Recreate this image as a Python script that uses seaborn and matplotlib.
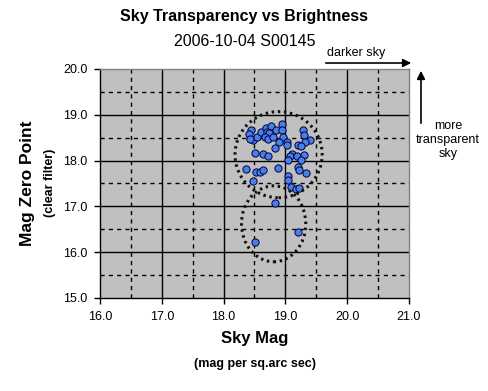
import numpy as np
import pandas as pd
import matplotlib
matplotlib.use("Agg")
import matplotlib.pyplot as plt
import seaborn as sns
from matplotlib.patches import Ellipse, FancyArrowPatch

# sky brightness (mag per sq.arc sec) and zero point readings
sky_mag = [18.44, 18.41, 18.48, 18.42, 18.54, 18.61, 18.69, 18.70, 18.77, 18.74,
           18.67, 18.72, 18.80, 18.85, 18.94, 18.94, 18.96, 18.89, 18.83, 19.02,
           19.03, 19.28, 19.30, 19.40, 19.32, 19.21, 19.26, 18.51, 18.64, 18.72,
           19.10, 19.07, 19.18, 19.30, 19.26, 19.04, 18.37, 18.52, 18.59, 18.64,
           18.88, 19.21, 19.22, 19.34, 18.47, 19.05, 19.04, 19.09, 19.17, 19.22,
           18.83, 19.20, 18.51]
zero_point = [18.67, 18.57, 18.45, 18.47, 18.52, 18.63, 18.71, 18.63, 18.76, 18.61,
              18.52, 18.47, 18.52, 18.67, 18.81, 18.67, 18.52, 18.41, 18.27, 18.41,
              18.34, 18.67, 18.56, 18.45, 18.41, 18.34, 18.32, 18.16, 18.14, 18.11,
              18.14, 18.09, 18.09, 18.12, 18.01, 18.01, 17.81, 17.76, 17.76, 17.79,
              17.83, 17.85, 17.79, 17.72, 17.55, 17.66, 17.58, 17.43, 17.38, 17.40,
              17.08, 16.45, 16.22]

# dotted rings drawn around the two groups (centre x, centre y, width, height)
ring_main = (18.89, 18.13, 1.41, 1.88)
ring_low = (18.81, 16.62, 1.04, 1.66)

df = pd.DataFrame({"sky": sky_mag, "zp": zero_point})

sns.set_style("white")
plt.rcParams['font.family'] = ['Liberation Sans', 'DejaVu Sans']
plt.rcParams['text.color'] = 'black'
plt.rcParams['xtick.color'] = 'black'
plt.rcParams['ytick.color'] = 'black'
plt.rcParams['axes.labelcolor'] = 'black'

fig = plt.figure(figsize=(4.89, 3.91), dpi=100)
ax = fig.add_axes([100 / 489, 1 - 298 / 391, 309 / 489, 229 / 391])
ax.set_facecolor("#c0c0c0")

# grid: solid at whole numbers, dashed at the halves
for v in np.arange(16.5, 21, 1.0):
    ax.axvline(v, color="black", lw=1, ls=(0, (3, 3)), zorder=1)
for v in np.arange(17, 21, 1.0):
    ax.axvline(v, color="black", lw=1, zorder=1)
for v in np.arange(15.5, 20, 1.0):
    ax.axhline(v, color="black", lw=1, ls=(0, (3, 3)), zorder=1)
for v in np.arange(16, 20, 1.0):
    ax.axhline(v, color="black", lw=1, zorder=1)

sns.scatterplot(data=df, x="sky", y="zp", ax=ax, s=27, color="#4a7fe6",
                edgecolor="#000040", linewidth=0.7, zorder=3)

for cx, cy, w, h in (ring_main, ring_low):
    ax.add_patch(Ellipse((cx, cy), w, h, fill=False, ec="#111111", lw=2.2,
                         ls=(0, (0.8, 1.2)), zorder=4))

ax.set_xlim(16, 21)
ax.set_ylim(15, 20)
ax.set_xticks(np.arange(16, 21.5, 1.0))
ax.set_yticks(np.arange(15, 20.5, 1.0))
ax.set_xticklabels([f"{v:.1f}" for v in np.arange(16, 21.5, 1.0)])
ax.set_yticklabels([f"{v:.1f}" for v in np.arange(15, 20.5, 1.0)])
ax.tick_params(axis="both", labelsize=9, length=4, width=1, direction="out",
               color="black", labelcolor="black", pad=5)
ax.tick_params(axis="x", bottom=True)
ax.tick_params(axis="y", left=True)
ax.set_xlabel("")
ax.set_ylabel("")
for side in ("left", "bottom"):
    ax.spines[side].set_color("black")
    ax.spines[side].set_linewidth(1)
for side in ("top", "right"):
    ax.spines[side].set_color("#808080")
    ax.spines[side].set_linewidth(1)

# titles and axis labels
fig.text(0.5, 1 - 17 / 391, "Sky Transparency vs Brightness", ha="center",
         va="center", fontsize=11.5, fontweight="bold")
fig.text(0.5, 1 - 41 / 391, "2006-10-04 S00145", ha="center", va="center",
         fontsize=11.5)
fig.text(255 / 489, 1 - 339 / 391, "Sky Mag", ha="center", va="center",
         fontsize=12, fontweight="bold")
fig.text(255 / 489, 1 - 364 / 391, "(mag per sq.arc sec)", ha="center",
         va="center", fontsize=9, fontweight="bold")
fig.text(28 / 489, 1 - 183 / 391, "Mag Zero Point", ha="center", va="center",
         rotation=90, fontsize=12.5, fontweight="bold")
fig.text(50 / 489, 1 - 183 / 391, "(clear filter)", ha="center", va="center",
         rotation=90, fontsize=9, fontweight="bold")

# direction hints
fig.text(356 / 489, 1 - 53 / 391, "darker sky", ha="center", va="center",
         fontsize=9)
fig.patches.append(FancyArrowPatch(
    (323 / 489, 1 - 63 / 391), (414 / 489, 1 - 63 / 391),
    transform=fig.transFigure, arrowstyle="-|>", mutation_scale=12,
    color="black", lw=1.2))
fig.patches.append(FancyArrowPatch(
    (421 / 489, 1 - 126 / 391), (421 / 489, 1 - 68 / 391),
    transform=fig.transFigure, arrowstyle="-|>", mutation_scale=12,
    color="black", lw=1.2))
fig.text(448 / 489, 1 - 140 / 391, "more\ntransparent\nsky", ha="center",
         va="center", fontsize=9, linespacing=1.2)

fig.savefig("out.png", dpi=100, facecolor="white")
